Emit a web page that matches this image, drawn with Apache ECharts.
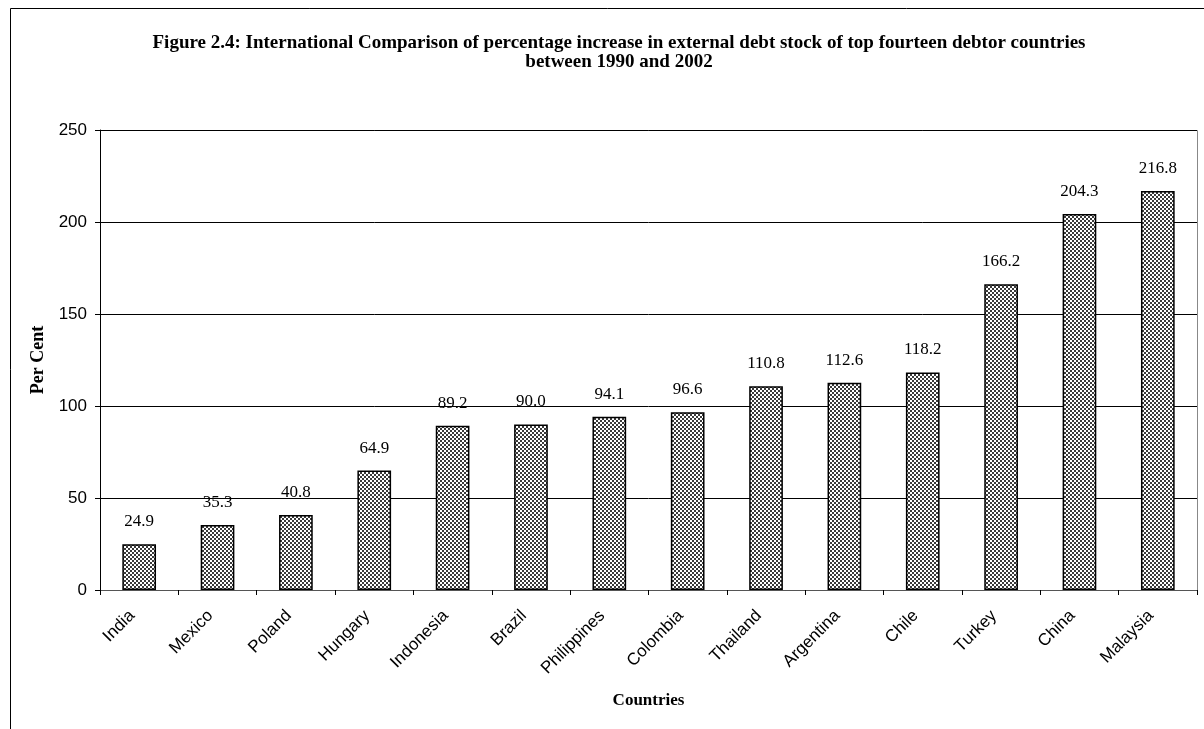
<!DOCTYPE html>
<html>
<head>
<meta charset="utf-8">
<script src="https://cdn.jsdelivr.net/npm/echarts@6/dist/echarts.min.js"></script>
<style>html,body{margin:0;padding:0;background:#fff;}#c{width:1204px;height:729px;}</style>
</head>
<body>
<div id="c"></div>
<script>
var categories = ['India','Mexico','Poland','Hungary','Indonesia','Brazil','Philippines','Colombia','Thailand','Argentina','Chile','Turkey','China','Malaysia'];
var values = [24.9,35.3,40.8,64.9,89.2,90.0,94.1,96.6,110.8,112.6,118.2,166.2,204.3,216.8];
var yTicks = [0,50,100,150,200,250];

var pc = document.createElement('canvas');
pc.width = 4; pc.height = 4;
var px = pc.getContext('2d');
px.fillStyle = '#ffffff'; px.fillRect(0,0,4,4);
px.fillStyle = '#3a3a3a'; px.fillRect(0,0,2,2); px.fillRect(2,2,2,2);

var chart = echarts.init(document.getElementById('c'), null, {renderer:'canvas'});
chart.setOption({
  animation:false,
  backgroundColor:'#fff',
  graphic:[
    {type:'rect', shape:{x:10.5,y:8.5,width:1300,height:800}, style:{fill:'none',stroke:'#000',lineWidth:1}},
    {type:'rect', shape:{x:100.5,y:130.5,width:1097,height:460}, style:{fill:'none',stroke:'#888',lineWidth:1}, z:-1}
  ],
  title:{
    text:'Figure 2.4: International Comparison of percentage increase in external debt stock of top fourteen debtor countries\nbetween 1990 and 2002',
    left:614, top:29, textAlign:'center',
    textStyle:{fontFamily:'Liberation Serif',fontWeight:'bold',fontSize:19,color:'#000',lineHeight:19}
  },
  grid:{left:100,top:130,width:1097,height:460,containLabel:false},
  xAxis:{
    type:'category', data:categories,
    name:'Countries', nameLocation:'middle', nameGap:102,
    nameTextStyle:{fontFamily:'Liberation Serif',fontWeight:'bold',fontSize:17,color:'#000'},
    axisLine:{lineStyle:{color:'#555',width:1}},
    axisTick:{show:true,alignWithLabel:false,length:5,lineStyle:{color:'#000'}},
    axisLabel:{rotate:45,interval:0,fontFamily:'Liberation Sans',fontSize:17,color:'#000',margin:16,padding:[0,10,0,0]}
  },
  yAxis:{
    type:'value', min:0, max:250, interval:50,
    name:'Per Cent', nameLocation:'middle', nameGap:50, nameRotate:90,
    nameTextStyle:{fontFamily:'Liberation Serif',fontWeight:'bold',fontSize:18,color:'#000'},
    axisLine:{show:true,lineStyle:{color:'#000',width:1}},
    axisTick:{show:true,inside:false,length:5,lineStyle:{color:'#000'}},
    axisLabel:{fontFamily:'Liberation Sans',fontSize:17,color:'#000',margin:13,
      formatter:function(v){return yTicks.indexOf(v)>=0?String(v):'';}},
    splitLine:{show:true,lineStyle:{color:'#000',width:1}}
  },
  series:[{
    type:'bar', data:values, barWidth:'43%',
    itemStyle:{color:{image:pc,repeat:'repeat'},borderColor:'#000',borderWidth:1.5},
    label:{show:true,position:'top',distance:14,fontFamily:'Liberation Serif',fontSize:17,color:'#000',
      formatter:function(p){return p.value.toFixed(1);}}
  }]
});
</script>
</body>
</html>
